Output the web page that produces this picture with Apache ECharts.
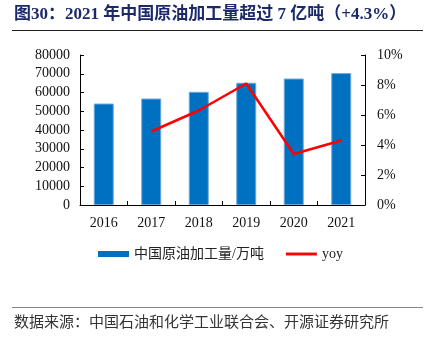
<!DOCTYPE html>
<html>
<head>
<meta charset="utf-8">
<script src="https://cdn.jsdelivr.net/npm/echarts@6/dist/echarts.min.js"></script>
<style>html,body{margin:0;padding:0;background:#fff;}#c{width:425px;height:340px;}</style>
</head>
<body>
<div id="c"></div>
<script>
const categories = ['2016', '2017', '2018', '2019', '2020', '2021'];
const processing = [54101, 56777, 60357, 65198, 67441, 70355];
const yoy = [null, 4.9, 6.3, 8.1, 3.4, 4.3];
const leftTicks = [0, 10000, 20000, 30000, 40000, 50000, 60000, 70000, 80000];
const rightTicks = ['0%', '2%', '4%', '6%', '8%', '10%'];
const titleText = '图30：2021 年中国原油加工量超过 7 亿吨（+4.3%）';
const sourceText = '数据来源：中国石油和化学工业联合会、开源证券研究所';
const barName = '中国原油加工量/万吨';
const lineName = 'yoy';

const FONT = '"Liberation Serif", "Noto Sans CJK SC", serif';
const chart = echarts.init(document.getElementById('c'), null, {renderer: 'canvas'});
chart.setOption({
  animation: false,
  backgroundColor: '#fff',
  textStyle: {fontFamily: FONT},
  graphic: [
    {type: 'text', left: 14, top: 6, style: {text: titleText, font: 'bold 17px "Liberation Serif", "Noto Sans CJK SC", serif', fill: '#1c2a6b'}},
    {type: 'line', shape: {x1: 12, y1: 30.5, x2: 423, y2: 30.5}, style: {stroke: '#222', lineWidth: 1}},
    {type: 'line', shape: {x1: 12, y1: 307.5, x2: 423, y2: 307.5}, style: {stroke: '#888', lineWidth: 1}},
    {type: 'text', left: 14, top: 314, style: {text: sourceText, font: '15px "Noto Sans CJK SC", serif', fill: '#333'}}
  ],
  legend: {
    top: 247, left: 98, padding: 0,
    itemGap: 22,
    textStyle: {fontFamily: FONT, fontSize: 14, color: '#222'},
    data: [
      {name: barName, icon: 'rect', itemStyle: {color: '#0070c0', borderWidth: 0}},
      {name: lineName, icon: 'path://M0,0 H32 V3 H0 Z', itemStyle: {color: '#ff0000'}}
    ],
    itemWidth: 31, itemHeight: 6
  },
  grid: {left: 80, right: 60, top: 55, bottom: 135, containLabel: false},
  xAxis: {
    type: 'category', data: categories,
    axisLine: {lineStyle: {color: '#000', width: 1}},
    axisTick: {show: true, inside: true, length: 4, alignWithLabel: false, lineStyle: {color: '#000'}},
    axisLabel: {color: '#111', fontSize: 14, fontFamily: FONT, margin: 11}
  },
  yAxis: [
    {
      type: 'value', min: 0, max: 80000, interval: 10000,
      axisLine: {show: true, lineStyle: {color: '#000'}},
      axisTick: {show: true, inside: true, length: 4, lineStyle: {color: '#000'}},
      splitLine: {show: false},
      axisLabel: {color: '#111', fontSize: 14, fontFamily: FONT, margin: 10,
        formatter: v => String(leftTicks[Math.round(v / 10000)])}
    },
    {
      type: 'value', min: 0, max: 10, interval: 2,
      axisLine: {show: true, lineStyle: {color: '#000'}},
      axisTick: {show: true, inside: true, length: 4, lineStyle: {color: '#000'}},
      splitLine: {show: false},
      axisLabel: {color: '#111', fontSize: 14, fontFamily: FONT, margin: 12,
        formatter: v => rightTicks[Math.round(v / 2)]}
    }
  ],
  series: [
    {
      name: barName, type: 'bar', data: processing, barWidth: '42%',
      itemStyle: {color: '#0070c0', borderColor: '#6aa6dc', borderWidth: 1}
    },
    {
      name: lineName, type: 'line', yAxisIndex: 1, data: yoy,
      symbol: 'none', lineStyle: {color: '#ff0000', width: 2.5}, itemStyle: {color: '#ff0000'}
    }
  ]
});
</script>
</body>
</html>
